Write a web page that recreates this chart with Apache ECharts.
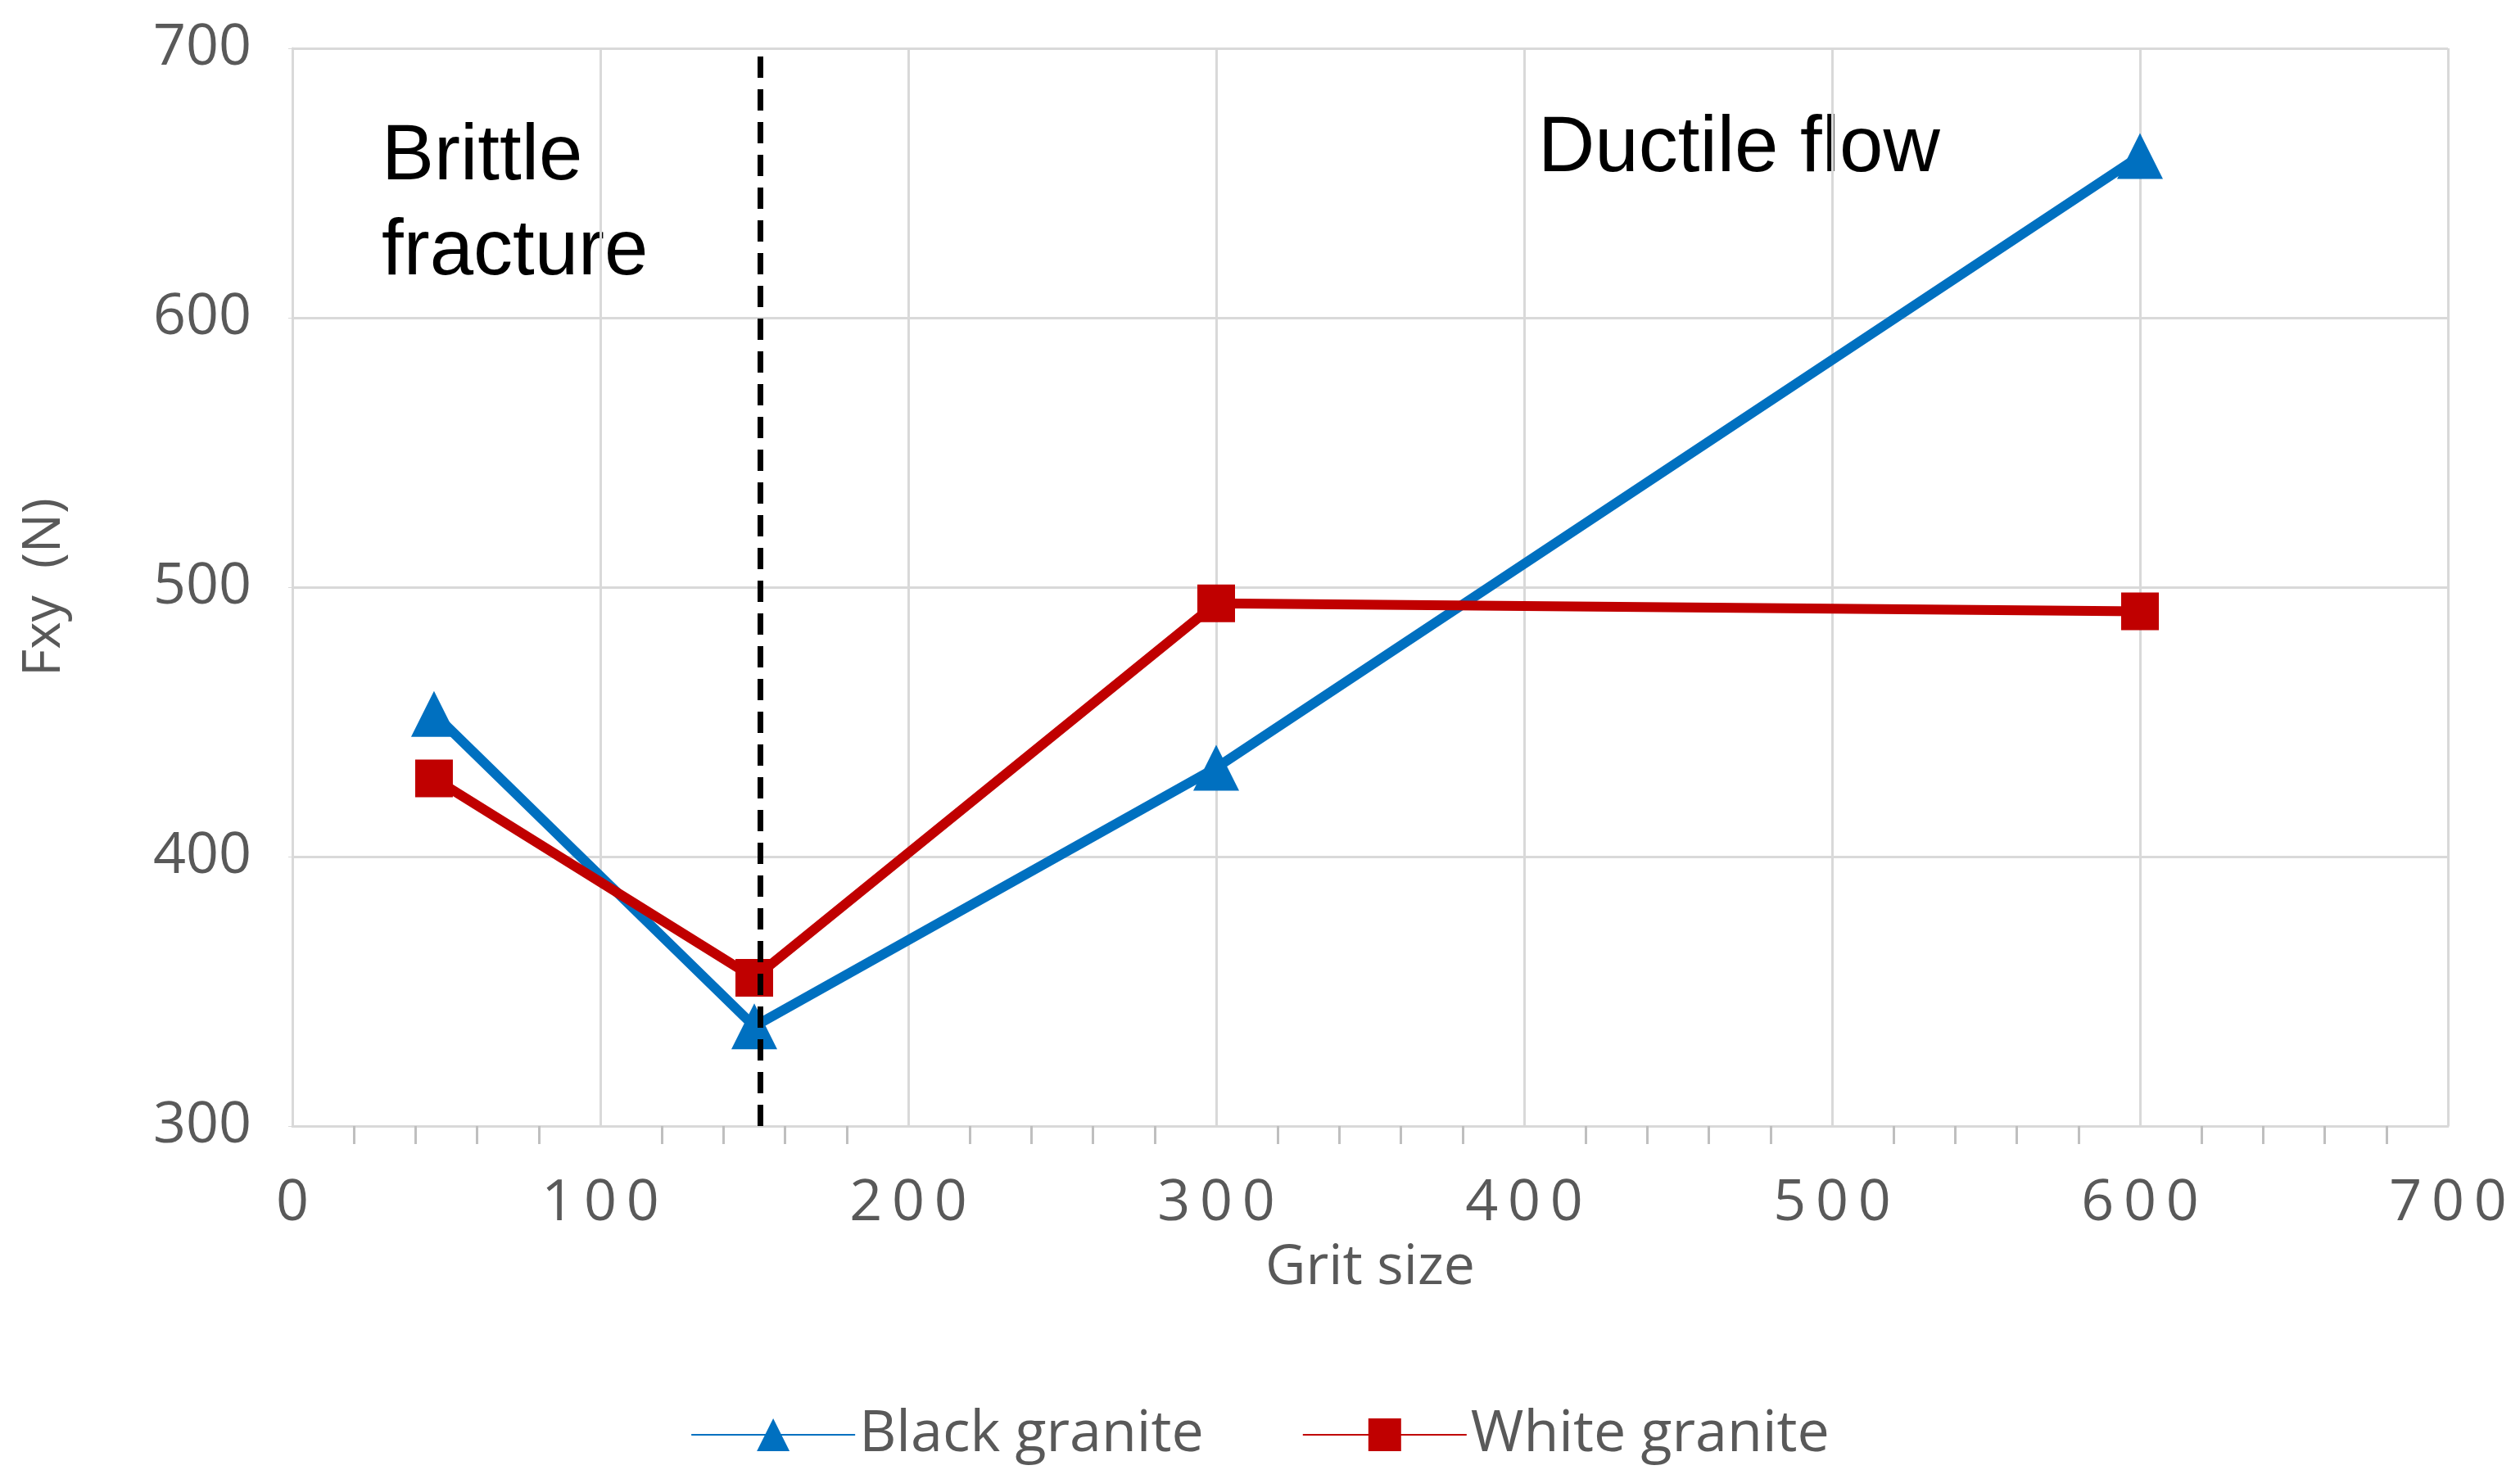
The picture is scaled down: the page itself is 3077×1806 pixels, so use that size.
<!DOCTYPE html>
<html><head><meta charset="utf-8">
<script src="https://cdn.jsdelivr.net/npm/echarts@6/dist/echarts.min.js"></script>
<style>html,body{margin:0;background:#fff}#c{width:3077px;height:1806px}</style>
</head><body><div id="c"></div>
<script>
const grit = [46, 150, 300, 600]
const blackGranite = [453, 337, 433, 660]
const whiteGranite = [429, 355, 494, 491]
const boundary = 152

const chart = echarts.init(document.getElementById('c'))
const gray = '#595959'
chart.setOption({
  grid: { left: 357, right: 88, top: 59, bottom: 431 },
  legend: {
    bottom: 14, itemWidth: 200, itemHeight: 50, itemGap: 120,
    textStyle: { fontSize: 70, color: gray, fontFamily: 'Open Sans' },
    data: ['Black granite', 'White granite']
  },
  xAxis: {
    type: 'value', min: 0, max: 700, interval: 100,
    name: 'Grit size', nameLocation: 'middle', nameGap: 140,
    nameTextStyle: { fontSize: 68, color: gray, fontFamily: 'Open Sans' },
    axisLine: { show: true, lineStyle: { color: '#d9d9d9', width: 3 } },
    axisTick: { show: false },
    minorTick: { show: true, splitNumber: 5, length: 22, lineStyle: { color: '#bfbfbf', width: 3 } },
    axisLabel: { fontSize: 70, color: gray, margin: 60, fontFamily: 'Open Sans',
      formatter: v => String(v).split('').join('\u2009') },
    splitLine: { lineStyle: { color: '#d9d9d9', width: 3 } }
  },
  yAxis: {
    type: 'value', min: 300, max: 700, interval: 100,
    name: 'Fxy  (N)', nameLocation: 'middle', nameGap: 270,
    nameTextStyle: { fontSize: 64, color: gray, fontFamily: 'Open Sans' },
    axisLine: { show: true, lineStyle: { color: '#d9d9d9', width: 3 } },
    axisLabel: { fontSize: 70, color: gray, margin: 50, fontFamily: 'Open Sans' },
    splitLine: { lineStyle: { color: '#d9d9d9', width: 3 } }
  },
  series: [
    {
      name: 'Black granite', type: 'line', data: grit.map((g, i) => [g, blackGranite[i]]),
      symbol: 'triangle', symbolSize: 56, color: '#0070c0',
      lineStyle: { width: 12 }, z: 3,
      markLine: {
        silent: true, symbol: 'none', label: { show: false },
        lineStyle: { color: '#000', type: [26, 14], width: 7 },
        data: [{ xAxis: boundary }]
      }
    },
    {
      name: 'White granite', type: 'line', data: grit.map((g, i) => [g, whiteGranite[i]]),
      symbol: 'rect', symbolSize: 46, color: '#c00000',
      lineStyle: { width: 12 }, z: 4
    }
  ],
  graphic: [
    { type: 'text', left: 466, top: 135, style: { text: 'Brittle\nfracture', fontSize: 96, lineHeight: 116, fill: '#000', fontFamily: 'Liberation Sans' } },
    { type: 'text', left: 1878, top: 135, style: { text: 'Ductile flow', fontSize: 96, fill: '#000', fontFamily: 'Liberation Sans' } }
  ]
})
</script></body></html>
